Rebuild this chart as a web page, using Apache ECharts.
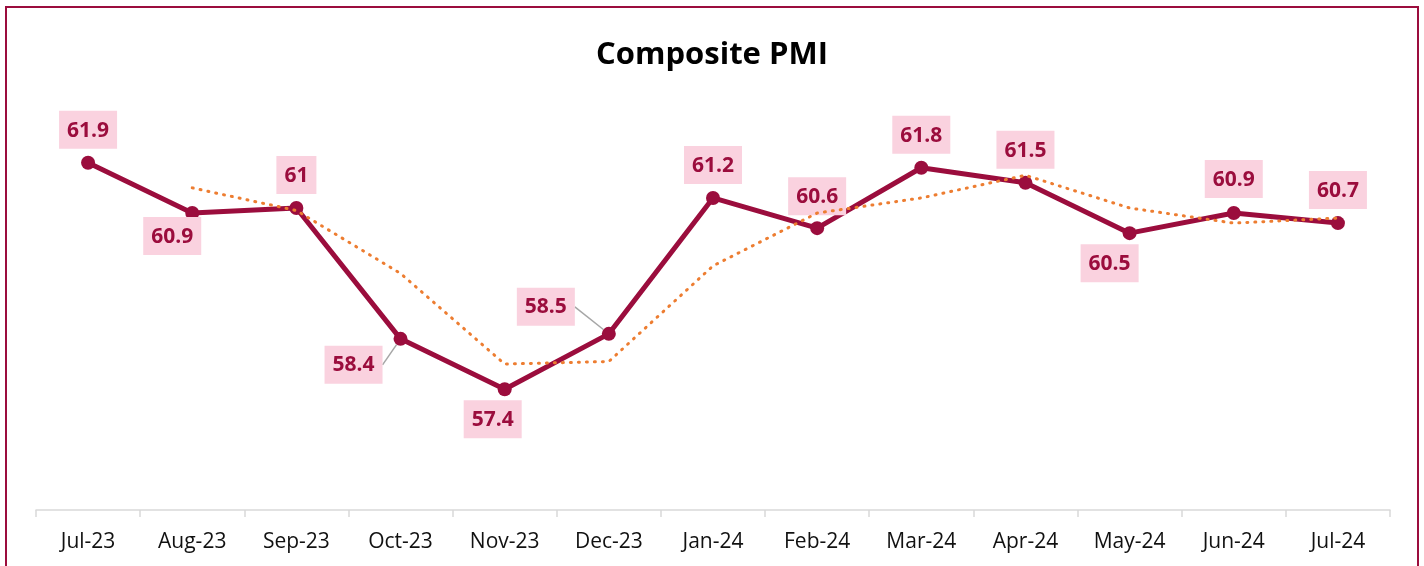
<!DOCTYPE html>
<html>
<head>
<meta charset="utf-8">
<script src="https://cdn.jsdelivr.net/npm/echarts@6/dist/echarts.min.js"></script>
<style>
html,body{margin:0;padding:0;background:#fff;}
#frame{position:absolute;left:5px;top:6px;width:1414px;height:600px;border:2px solid #9b0d3d;box-sizing:border-box;}
#chart{position:absolute;left:0;top:0;width:1424px;height:566px;}
</style>
</head>
<body>
<div id="frame"></div>
<div id="chart"></div>
<script>
const categories = ['Jul-23','Aug-23','Sep-23','Oct-23','Nov-23','Dec-23','Jan-24','Feb-24','Mar-24','Apr-24','May-24','Jun-24','Jul-24'];
const pmiValues = [61.9, 60.9, 61, 58.4, 57.4, 58.5, 61.2, 60.6, 61.8, 61.5, 60.5, 60.9, 60.7];
const trendValues = [null, 61.4, 60.95, 59.7, 57.9, 57.95, 59.85, 60.9, 61.2, 61.65, 61.0, 60.7, 60.8];
const yTicks = {min: 55, max: 64};

// label placement (style only): side + nudge in px
const labelPlace = [
  {pos:'top', move:[0,0]},
  {pos:'bottom', move:[-20,-10]},
  {pos:'top', move:[0,0]},
  {pos:'left', move:[-4,26], line:true},
  {pos:'bottom', move:[-12,-3]},
  {pos:'left', move:[-20,-27], line:true},
  {pos:'top', move:[0,0]},
  {pos:'top', move:[0,1]},
  {pos:'top', move:[0,0]},
  {pos:'top', move:[0,0]},
  {pos:'bottom', move:[-20,-3]},
  {pos:'top', move:[0,-1]},
  {pos:'top', move:[0,0]}
];

const mainColor = '#9b0d3d';
const chart = echarts.init(document.getElementById('chart'));
const pmiData = pmiValues.map((v, i) => ({
  value: v,
  label: {position: labelPlace[i].pos},
  labelLine: {show: !!labelPlace[i].line}
}));

chart.setOption({
  animation: false,
  backgroundColor: 'transparent',
  title: {
    text: 'Composite PMI',
    left: 'center',
    top: 35,
    textStyle: {fontFamily: 'Open Sans', fontSize: 31, fontWeight: 'bold', color: '#000'}
  },
  grid: {left: 36, right: 34, top: 57, bottom: 56},
  xAxis: {
    type: 'category',
    data: categories,
    boundaryGap: true,
    axisLine: {lineStyle: {color: '#d9d9d9', width: 1.5}},
    axisTick: {show: true, length: 7, lineStyle: {color: '#d9d9d9', width: 1.5}},
    axisLabel: {fontFamily: 'Open Sans', fontSize: 21, color: '#111', margin: 22}
  },
  yAxis: {
    type: 'value',
    min: yTicks.min,
    max: yTicks.max,
    show: false,
    splitLine: {show: false}
  },
  series: [
    {
      name: 'Composite PMI',
      type: 'line',
      data: pmiData,
      z: 2,
      symbol: 'circle',
      symbolSize: 14,
      itemStyle: {color: mainColor},
      lineStyle: {color: mainColor, width: 5},
      label: {
        show: true,
        fontFamily: 'Open Sans',
        fontSize: 21,
        lineHeight: 24,
        fontWeight: 'bold',
        color: mainColor,
        backgroundColor: '#fad2df',
        padding: [8, 8, 6, 8],
        distance: 7
      },
      labelLayout: function (params) {
        const p = labelPlace[params.dataIndex];
        if (p && p.move) return {dx: p.move[0], dy: p.move[1]};
        return {};
      },
      labelLine: {lineStyle: {color: '#a6a6a6', width: 1.5}}
    },
    {
      name: 'Trend',
      type: 'line',
      data: trendValues,
      z: 3,
      symbol: 'none',
      silent: true,
      lineStyle: {color: '#ed7d31', width: 3, type: [1, 7], cap: 'round'}
    }
  ]
});
</script>
</body>
</html>
